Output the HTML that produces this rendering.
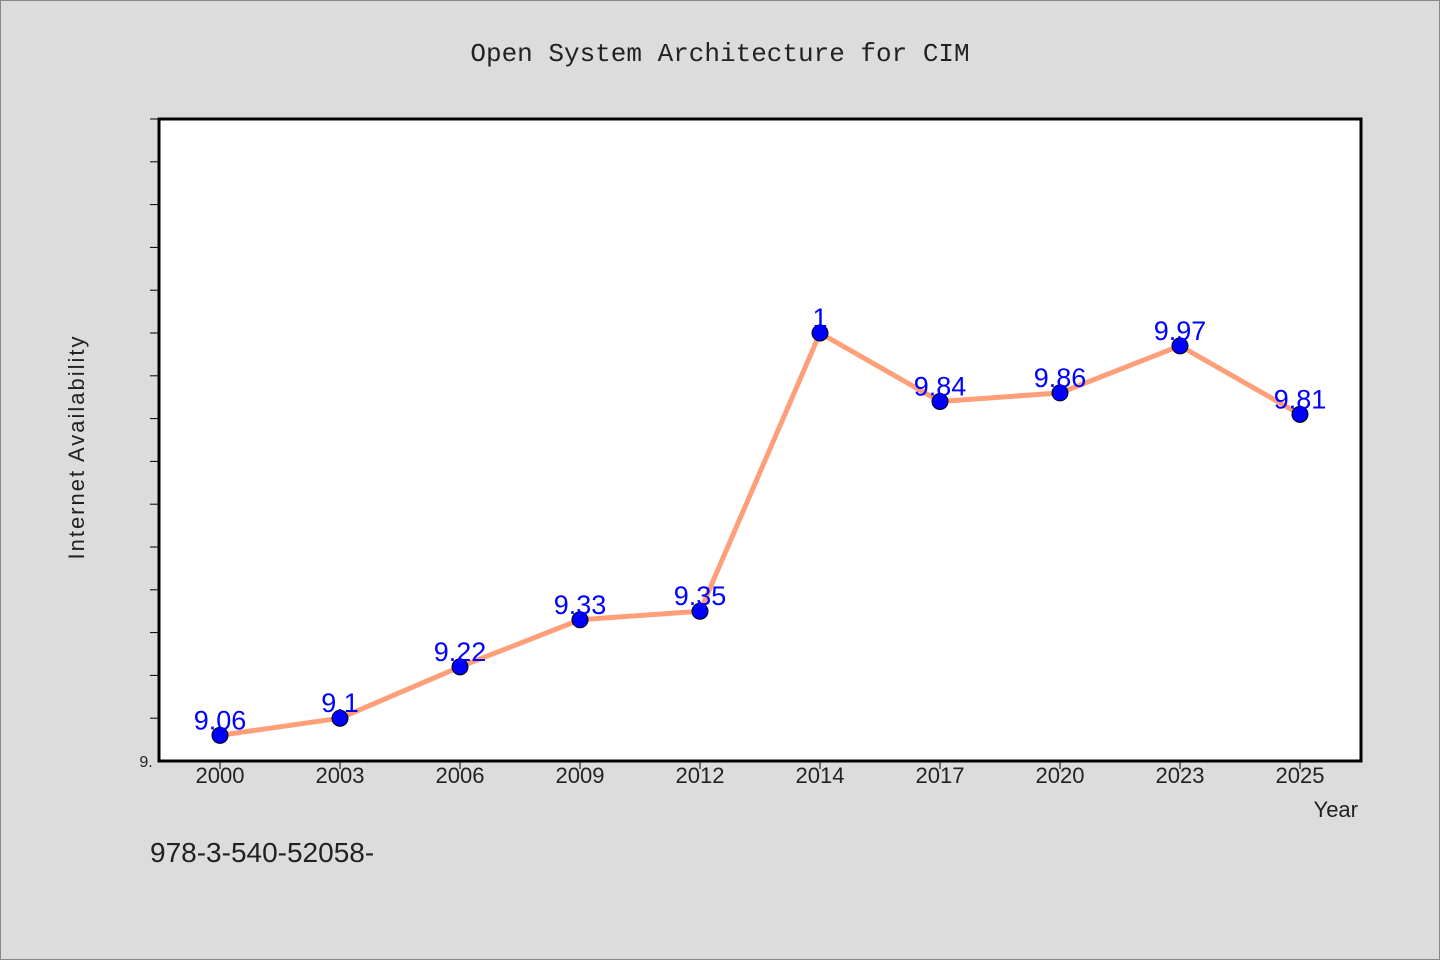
<!DOCTYPE html>
<html><head><meta charset="utf-8"><style>
html,body{margin:0;padding:0;background:#dcdcdc;}
svg{display:block;font-family:"WenQuanYi Zen Hei","Liberation Sans",sans-serif;}
</style></head><body>
<svg id="chart" width="1440" height="960" viewBox="0 0 1440 960">
<rect x="0.5" y="0.5" width="1439" height="959" fill="#dcdcdc" stroke="#888"/>
<text x="720" y="61" text-anchor="middle" font-size="26" fill="#222" font-family="Liberation Mono, monospace">Open System Architecture for CIM</text>
<rect x="159" y="119" width="1202" height="642" fill="#fff" stroke="#000" stroke-width="3"/>
<text transform="translate(84,447) rotate(-90)" text-anchor="middle" font-size="22" fill="#222" letter-spacing="2">Internet Availability</text>
<text x="1358" y="817" text-anchor="end" font-size="22" fill="#222">Year</text>
<text x="146" y="767" text-anchor="middle" font-size="16" fill="#222">9.</text>
<text x="150" y="862" font-size="28" fill="#222">978-3-540-52058-</text>
<g id="ticks"></g>
<g id="series"></g>
</svg>
<script>
const categories = ["2000","2003","2006","2009","2012","2014","2017","2020","2023","2025"];
const values = [9.06, 9.10, 9.22, 9.33, 9.35, 10.0, 9.84, 9.86, 9.97, 9.81];
const valueLabels = ["9.06","9.1","9.22","9.33","9.35","1","9.84","9.86","9.97","9.81"];
const yMin = 9.0, yMax = 10.5;
const NS = "http://www.w3.org/2000/svg";
const x = i => 220 + i * 120;
const y = v => 761 - (v - yMin) / (yMax - yMin) * 642;
function mk(tag, attrs, parent){const e=document.createElementNS(NS,tag);for(const k in attrs)e.setAttribute(k,attrs[k]);parent.appendChild(e);return e;}
const tg = document.getElementById('ticks');
for (let v = 9.1; v < yMax; v += 0.1) {
  const t = mk('line',{x1:150,x2:159,y1:y(v),y2:y(v),stroke:'#000','stroke-width':1},tg);
  
  
}
categories.forEach((c,i)=>{
  const t = mk('line',{x1:x(i),x2:x(i),y1:761,y2:769,stroke:'#000','stroke-width':1},tg);
  
  
  const l = mk('text',{x:x(i),y:783,'text-anchor':'middle','font-size':22,fill:'#222'},tg);
  l.textContent = c;
  
  
});
const sg = document.getElementById('series');
const line = mk('polyline',{points:values.map((v,i)=>x(i)+','+y(v)).join(' '),fill:'none',stroke:'#ff9f7a','stroke-width':5,'stroke-linejoin':'round'},sg);


values.forEach((v,i)=>{
  const p = mk('circle',{cx:x(i),cy:y(v),r:8,fill:'#0000ff',stroke:'#000','stroke-width':1},sg);
  
  
  const l = mk('text',{x:x(i),y:y(v)-6,'text-anchor':'middle','font-size':27,fill:'#0000ff'},sg);
  l.textContent = valueLabels[i];
  
  
});
</script>
</body></html>
